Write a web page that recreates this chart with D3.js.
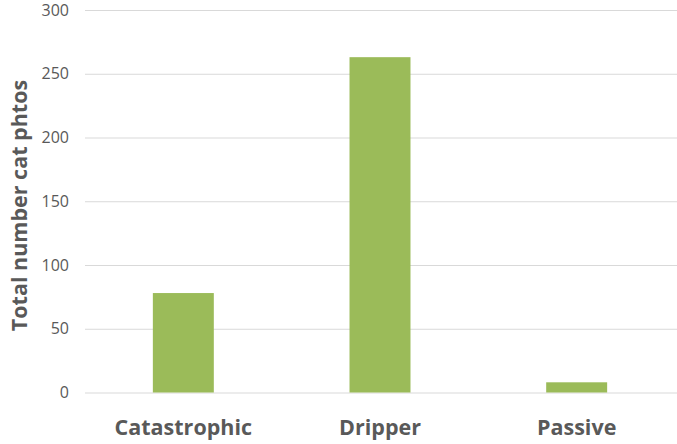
<!DOCTYPE html>
<html>
<head>
<meta charset="utf-8">
<script src="https://cdn.jsdelivr.net/npm/d3@7"></script>
<style>
  body { margin: 0; background: #fff; }
  text { font-family: "Open Sans", "Liberation Sans", sans-serif; }
</style>
</head>
<body>
<div class="graph"></div>
<script>
// chart data
var categories = ["Catastrophic", "Dripper", "Passive"];
var counts = [78, 263, 8];
var yTicks = [0, 50, 100, 150, 200, 250, 300];

var w = 677;
var h = 444;
var margin = {top: 10, right: 2, bottom: 51, left: 85};

var svg = d3.select(".graph").append("svg")
            .attr("width", w)
            .attr("height", h);

var x = d3.scaleBand()
          .domain(categories)
          .range([margin.left, w - margin.right])
          .paddingInner(0.69)
          .paddingOuter(0.345);

var y = d3.scaleLinear()
          .domain([0, 300])
          .range([h - margin.bottom - 0.5, margin.top]);

// gridlines + tick labels
var yAxis = svg.append("g")
  .attr("transform", "translate(" + margin.left + ",0)")
  .call(d3.axisLeft(y).tickValues(yTicks).tickSize(-(w - margin.left)).tickPadding(16));
yAxis.select(".domain").remove();
yAxis.selectAll(".tick line").attr("stroke", "#d9d9d9");
yAxis.selectAll(".tick text")
  .attr("fill", "#595959")
  .attr("font-size", "16px");

svg.selectAll("rect.bar")
  .data(counts)
  .enter()
    .append("rect")
    .attr("class", "bar")
    .attr("x", function(d, i) { return x(categories[i]); })
    .attr("y", function(d) { return y(d); })
    .attr("width", x.bandwidth())
    .attr("height", function(d) { return y(0) - y(d); })
    .attr("fill", "#9bbb59");

svg.selectAll("text.cat")
  .data(categories)
  .enter()
    .append("text")
    .attr("class", "cat")
    .attr("x", function(d) { return x(d) + x.bandwidth() / 2; })
    .attr("y", 435)
    .attr("text-anchor", "middle")
    .attr("font-size", "21.5px")
    .attr("font-weight", "bold")
    .attr("fill", "#595959")
    .text(function(d) { return d; });

svg.append("text")
  .attr("transform", "translate(27," + ((margin.top + h - margin.bottom) / 2 + 4) + ") rotate(-90)")
  .attr("text-anchor", "middle")
  .attr("font-size", "21.5px")
  .attr("font-weight", "bold")
  .attr("fill", "#595959")
  .text("Total number cat phtos");
</script>
</body>
</html>
